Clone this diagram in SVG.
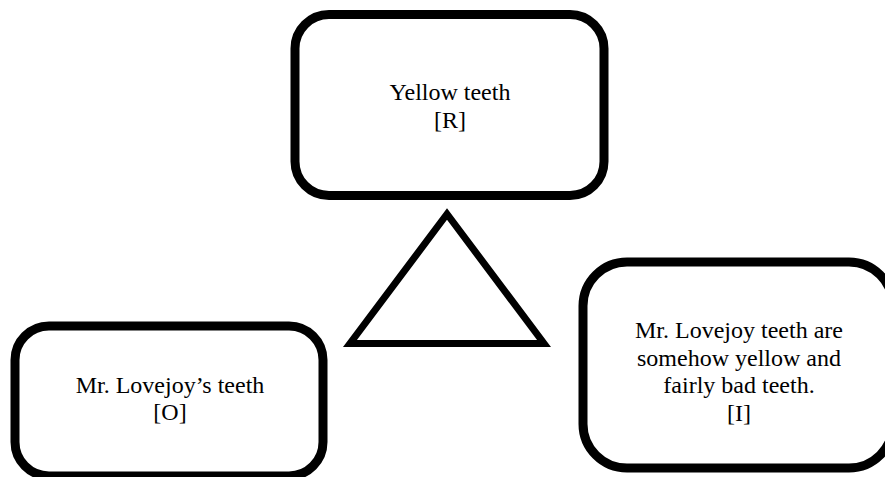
<svg xmlns="http://www.w3.org/2000/svg" width="885" height="477" viewBox="0 0 885 477">
  <style>
    .box { fill: #ffffff; stroke: #000000; stroke-width: 9; }
    .tri { fill: #ffffff; stroke: #000000; stroke-width: 7; stroke-linejoin: miter; }
    .label { font-family: "Liberation Serif", "Times New Roman", serif; font-size: 24px; fill: #000000; text-anchor: middle; }
  </style>
  <rect width="885" height="477" fill="#ffffff"/>

  <g id="node-yellow-teeth">
    <rect class="box" x="295" y="14.5" width="309" height="181" rx="34" ry="34"/>
    <text class="label" x="450" y="100">Yellow teeth</text>
    <text class="label" x="450" y="127.5">[R]</text>
  </g>

  <g id="connectors">
    <polygon class="tri" points="447,214 350,343.5 544,343.5"/>
  </g>

  <g id="node-lovejoy-teeth">
    <rect class="box" x="15" y="326" width="308" height="150" rx="34" ry="34"/>
    <text class="label" x="170" y="392.5">Mr. Lovejoy’s teeth</text>
    <text class="label" x="170" y="420">[O]</text>
  </g>

  <g id="node-interpretation">
    <rect class="box" x="583" y="262" width="310" height="206" rx="44" ry="44"/>
    <text class="label" x="739" y="338">Mr. Lovejoy teeth are</text>
    <text class="label" x="739" y="365.5">somehow yellow and</text>
    <text class="label" x="739" y="393">fairly bad teeth.</text>
    <text class="label" x="739" y="420.5">[I]</text>
  </g>
</svg>
